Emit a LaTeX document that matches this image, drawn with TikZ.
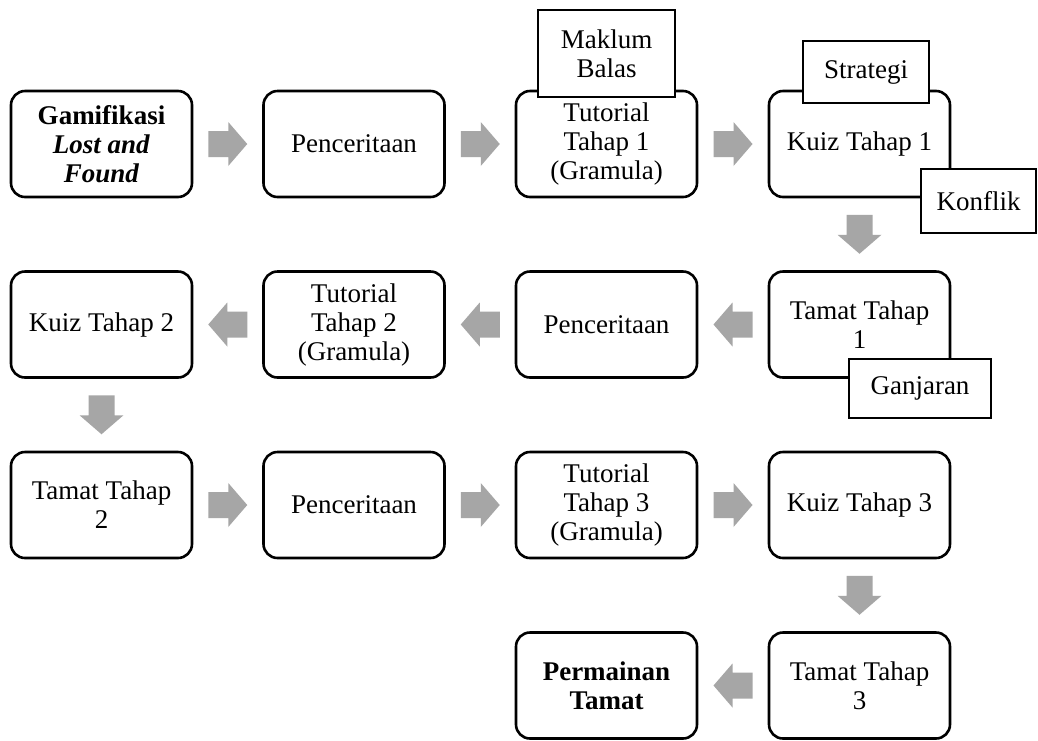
\documentclass[tikz,border=0pt]{standalone}
\usepackage{fontspec}
\setmainfont{Liberation Serif}
\usetikzlibrary{calc}
\definecolor{arrowgray}{RGB}{166,166,166}
\tikzset{
  blockarrow/.pic={\fill[arrowgray] (-19.5,-13) -- (0.5,-13) -- (0.5,-22) -- (19.5,0) -- (0.5,22) -- (0.5,13) -- (-19.5,13) -- cycle;},
  box/.style={draw, line width=2.6pt, rounded corners=14pt, fill=white, minimum width=181pt, minimum height=106pt, align=center, inner sep=2pt, font=\fontsize{27}{29}\selectfont},
  tag/.style={draw, line width=1.8pt, fill=white, align=center, inner sep=0pt, font=\fontsize{27}{29}\selectfont},
}
\begin{document}
\begin{tikzpicture}[x=1pt,y=1pt]
\useasboundingbox[fill=white] (0,0) rectangle (1038,-740);
% row 1
\node[box] (a1) at (101.5,-144) {\textbf{Gamifikasi}\\\textbf{\textit{Lost and}}\\\textbf{\textit{Found}}};
\node[box] (a2) at (354,-144) {Penceritaan};
\node[box] (a3) at (606.5,-144) {Tutorial\\Tahap 1\\(Gramula)};
\node[box] (a4) at (859.5,-144) {Kuiz Tahap 1};
% row 2
\node[box] (b4) at (859.5,-324.5) {Tamat Tahap\\1};
\node[box] (b3) at (606.5,-324.5) {Penceritaan};
\node[box] (b2) at (354,-324.5) {Tutorial\\Tahap 2\\(Gramula)};
\node[box] (b1) at (101.5,-324.5) {Kuiz Tahap 2};
% row 3
\node[box] (c1) at (101.5,-505) {Tamat Tahap\\2};
\node[box] (c2) at (354,-505) {Penceritaan};
\node[box] (c3) at (606.5,-505) {Tutorial\\Tahap 3\\(Gramula)};
\node[box] (c4) at (859.5,-505) {Kuiz Tahap 3};
% row 4
\node[box] (d4) at (859.5,-685.5) {Tamat Tahap\\3};
\node[box] (d3) at (606.5,-685.5) {\textbf{Permainan}\\\textbf{Tamat}};
% arrows
\path ($(a1.east)!0.5!(a2.west)$) pic{blockarrow};
\path ($(a2.east)!0.5!(a3.west)$) pic{blockarrow};
\path ($(a3.east)!0.5!(a4.west)$) pic{blockarrow};
\path ($(a4.south)!0.5!(b4.north)$) pic[rotate=-90]{blockarrow};
\path ($(b4.west)!0.5!(b3.east)$) pic[rotate=180]{blockarrow};
\path ($(b3.west)!0.5!(b2.east)$) pic[rotate=180]{blockarrow};
\path ($(b2.west)!0.5!(b1.east)$) pic[rotate=180]{blockarrow};
\path ($(b1.south)!0.5!(c1.north)$) pic[rotate=-90]{blockarrow};
\path ($(c1.east)!0.5!(c2.west)$) pic{blockarrow};
\path ($(c2.east)!0.5!(c3.west)$) pic{blockarrow};
\path ($(c3.east)!0.5!(c4.west)$) pic{blockarrow};
\path ($(c4.south)!0.5!(d4.north)$) pic[rotate=-90]{blockarrow};
\path ($(d4.west)!0.5!(d3.east)$) pic[rotate=180]{blockarrow};
% tags
\node[tag, minimum width=137pt, minimum height=87pt] (mb) at (606.5,-53.5) {Maklum\\Balas};
\node[tag, minimum width=126pt, minimum height=62pt] (st) at (866,-72) {Strategi};
\node[tag, minimum width=115pt, minimum height=64pt] (kf) at (978.5,-201) {Konflik};
\node[tag, minimum width=142pt, minimum height=59pt] (gj) at (920,-388.5) {Ganjaran};
\end{tikzpicture}
\end{document}
